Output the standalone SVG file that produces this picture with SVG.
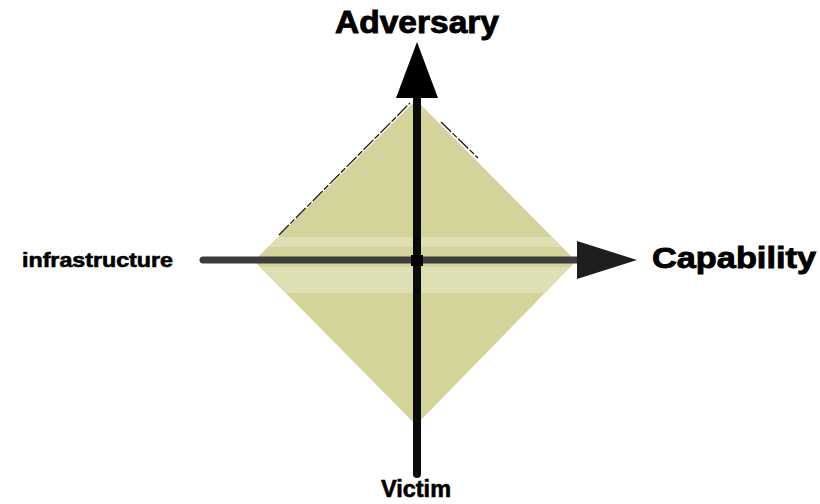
<svg xmlns="http://www.w3.org/2000/svg" width="820" height="504" viewBox="0 0 820 504">
<style>
.lbl{font-family:"Liberation Sans",Arial,sans-serif;font-weight:bold;fill:#000;stroke:#000;stroke-width:0.9;}
.edge{stroke:#1a1a1a;stroke-width:1.3;fill:none;stroke-dasharray:14 2 6 2;}
</style>
<defs>
<clipPath id="dclip"><polygon points="416,100 576,261 416,425 254,261"/></clipPath>
</defs>
<rect width="820" height="504" fill="#fff"/>
<g id="diamond">
<polygon points="416,100 576,261 416,425 254,261" fill="#d3d39a"/>
<g clip-path="url(#dclip)">
<rect x="250" y="237" width="330" height="10" fill="#dedfb2"/>
<rect x="250" y="267" width="330" height="26" fill="#dedfb2"/>
</g>
<path class="edge" d="M279,235 L410,103"/>
<path class="edge" d="M441,122 L478,158"/>
</g>
<g id="connectors">
<line x1="203" y1="260" x2="580" y2="260" stroke="#3d3d3d" stroke-width="7" stroke-linecap="round"/>
<polygon points="577,241 637,260 577,279" fill="#1e1e1e"/>
<line x1="417" y1="92" x2="417" y2="474" stroke="#0a0a0a" stroke-width="8" stroke-linecap="round"/>
<polygon points="417,42 438,98 396,98" fill="#000"/>
<rect x="411" y="255" width="12" height="11" fill="#000"/>
</g>
<g id="adversary"><text class="lbl" x="417" y="33" font-size="31" text-anchor="middle" textLength="164" lengthAdjust="spacingAndGlyphs">Adversary</text></g>
<g id="capability"><text class="lbl" x="652" y="268" font-size="30" textLength="164" lengthAdjust="spacingAndGlyphs">Capability</text></g>
<g id="infrastructure"><text class="lbl" x="22" y="267" font-size="20" textLength="151" lengthAdjust="spacingAndGlyphs" style="stroke-width:0.6">infrastructure</text></g>
<g id="victim"><text class="lbl" x="381" y="497" font-size="23" textLength="70" lengthAdjust="spacingAndGlyphs" style="stroke-width:0.6">Victim</text></g>
</svg>
